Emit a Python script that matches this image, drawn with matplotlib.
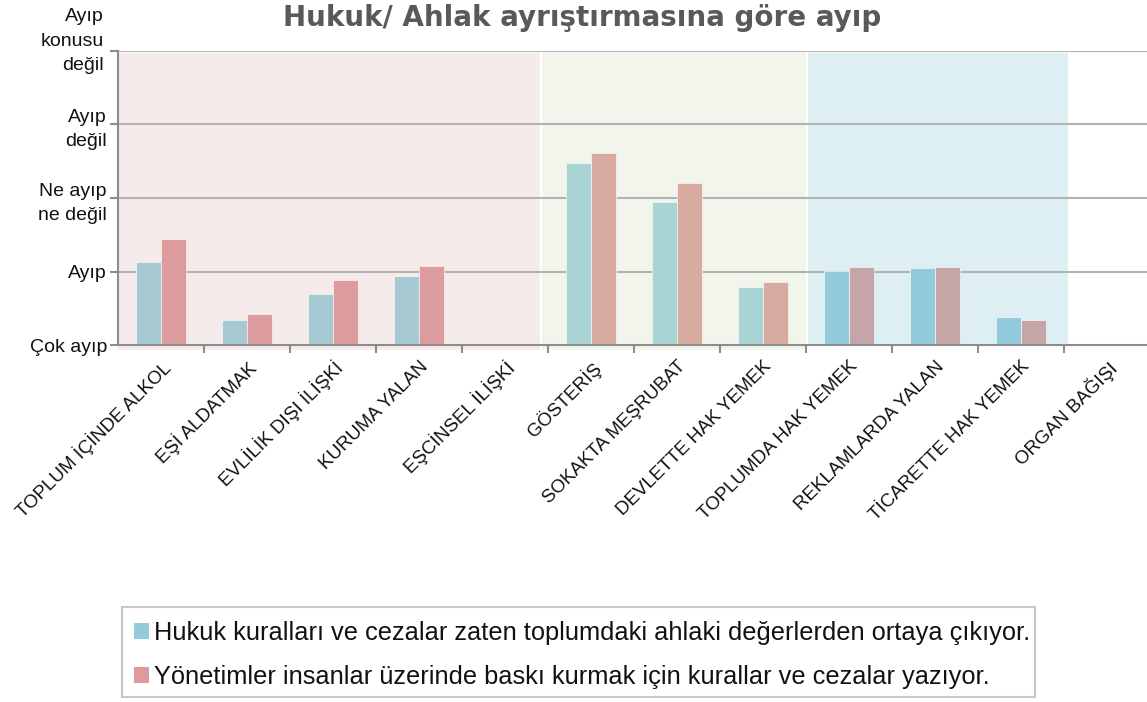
import numpy as np
import matplotlib
matplotlib.use("Agg")
import matplotlib.pyplot as plt
from matplotlib.patches import Patch, Rectangle

plt.rcParams['font.family'] = ['Liberation Sans', 'DejaVu Sans']

categories = ["TOPLUM İÇİNDE ALKOL", "EŞİ ALDATMAK", "EVLİLİK DIŞI İLİŞKİ", "KURUMA YALAN",
              "EŞCİNSEL İLİŞKİ", "GÖSTERİŞ", "SOKAKTA MEŞRUBAT", "DEVLETTE HAK YEMEK",
              "TOPLUMDA HAK YEMEK", "REKLAMLARDA YALAN", "TİCARETTE HAK YEMEK", "ORGAN BAĞIŞI"]
hukuk = [2.13, 1.35, 1.69, 1.94, np.nan, 3.47, 2.95, 1.79, 2.01, 2.05, 1.38, np.nan]
yonetim = [2.44, 1.43, 1.89, 2.08, np.nan, 3.61, 3.21, 1.86, 2.06, 2.06, 1.35, np.nan]
group = [0, 0, 0, 0, 0, 1, 1, 1, 2, 2, 2, -1]
ytick_values = [1, 2, 3, 4, 5]
ytick_labels = ["Çok ayıp", "Ayıp", "Ne ayıp\nne değil", "Ayıp\ndeğil", "Ayıp\nkonusu\ndeğil"]
series_labels = ["Hukuk kuralları ve cezalar zaten toplumdaki ahlaki değerlerden ortaya çıkıyor.",
                 "Yönetimler insanlar üzerinde baskı kurmak için kurallar ve cezalar yazıyor."]
title = "Hukuk/ Ahlak ayrıştırmasına göre ayıp"

blue_cols = ["#a7c9d4", "#a8d5d4", "#93cbdc"]
red_cols = ["#dc9c9e", "#d8aba0", "#c5a5a8"]
bg_cols = ["#f5ebeb", "#f2f5ec", "#deeff3"]
bg_spans = [(-0.5, 4.41), (4.43, 7.5), (7.52, 10.55)]
bg_bottom = [-0.017, -0.017, 0.0]

W, H = 1147, 702
fig = plt.figure(figsize=(W / 100, H / 100), dpi=100)
ax = fig.add_axes([118 / W, 1 - 345.3 / H, (W - 118) / W, (345.3 - 50.7) / H])

x = np.arange(len(categories))
ax.set_xlim(-0.5, (W - 161) / 86)
ax.set_ylim(1, 5)

for (a, b), c, yb in zip(bg_spans, bg_cols, bg_bottom):
    ax.axvspan(a, b, ymin=yb, ymax=0.993, color=c, lw=0, zorder=0, clip_on=False)

gcol = "#b3b3b3"
for v in ytick_values[1:]:
    ax.axhline(v, color=gcol, lw=1.5, zorder=1)

bw = 0.285
bc = [blue_cols[g] if g >= 0 else "#fff" for g in group]
rc = [red_cols[g] if g >= 0 else "#fff" for g in group]
ax.bar(x - bw / 2, np.nan_to_num(hukuk), width=bw, bottom=0, color=bc, zorder=2,
       edgecolor="white", linewidth=0.4)
ax.bar(x + bw / 2, np.nan_to_num(yonetim), width=bw, bottom=0, color=rc, zorder=2,
       edgecolor="white", linewidth=0.4)

acol = "#8c8c8c"
for s in ["top", "right"]:
    ax.spines[s].set_visible(False)
ax.spines["left"].set_color(acol)
ax.spines["bottom"].set_color(acol)
ax.spines["left"].set_linewidth(1.5)
ax.spines["bottom"].set_linewidth(1.5)
ax.spines["bottom"].set_zorder(3)

ax.set_yticks(ytick_values)
ax.set_yticklabels(ytick_labels[:-1] + [""], fontsize=14, color="#111111", linespacing=1.55)
ax.tick_params(axis="y", length=6, width=1.5, color=acol, pad=2)
# top label sits a little higher in the reference
ax.text(104 / W, 1 - 41 / H, ytick_labels[-1], transform=fig.transFigure, ha="right",
        va="center", fontsize=14, color="#111111", linespacing=1.55)

ax.set_xticks(x)
ax.set_xticklabels(categories, rotation=45, ha="right", va="top", rotation_mode="anchor",
                   fontsize=13.5, color="#111111")
ax.tick_params(axis="x", which="major", length=0, pad=9)
ax.set_xticks(np.arange(0.5, 11, 1), minor=True)
ax.tick_params(axis="x", which="minor", length=6, width=1.5, color=acol)

fig.text(582 / W, 1 - 18 / H, title, ha="center", va="center", fontsize=20,
         fontweight="bold", color="#595959", family=["DejaVu Sans"])

# legend box
fig.patches.append(Rectangle((122 / W, 1 - 697 / H), (1035 - 122) / W, 90 / H,
                             transform=fig.transFigure, facecolor="white",
                             edgecolor="#c8c8c8", linewidth=1.5, zorder=0))
handles = [Patch(facecolor="#93cbdc", edgecolor="none"), Patch(facecolor="#dc9c9e", edgecolor="none")]
leg = fig.legend(handles, series_labels, loc="upper left", bbox_to_anchor=(134 / W, 1 - 621 / H),
                 fontsize=18.3, frameon=False, handlelength=0.6, handleheight=0.6,
                 handletextpad=0.2, labelspacing=0.77, borderpad=0, borderaxespad=0)
for t in leg.get_texts():
    t.set_color("#111111")

fig.savefig("out.png", dpi=100)
